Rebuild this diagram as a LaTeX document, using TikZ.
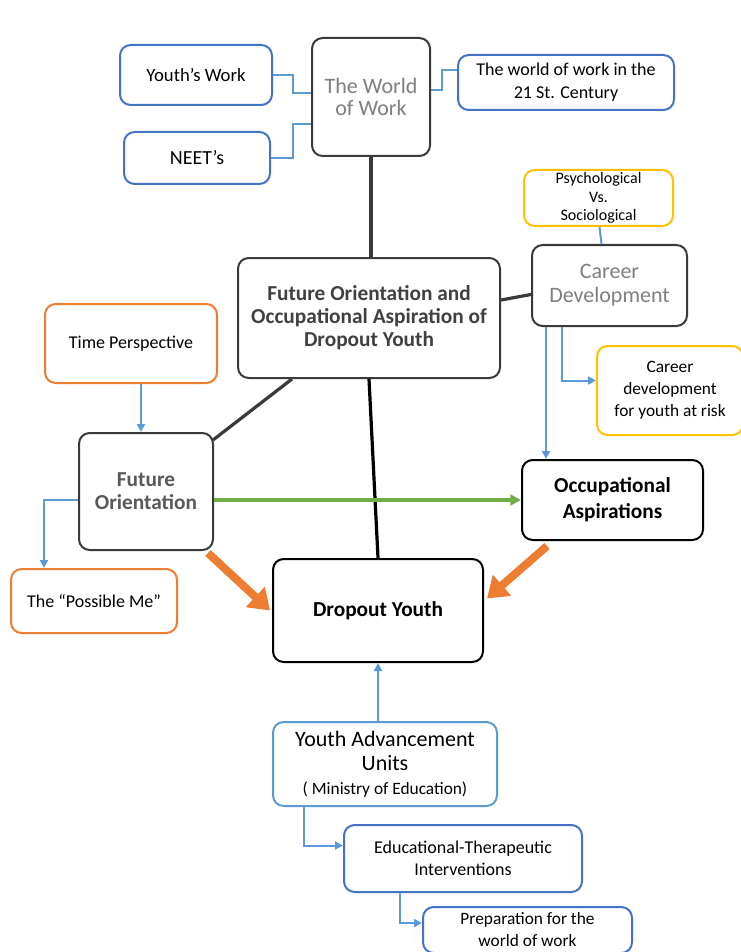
\documentclass[tikz,border=0pt]{standalone}
\usepackage{fontspec}
\setmainfont{Carlito}
\usetikzlibrary{calc,arrows.meta}
\definecolor{cblue}{HTML}{4472C4}
\definecolor{lblue}{HTML}{5B9BD5}
\definecolor{corange}{HTML}{ED7D31}
\definecolor{cyellow}{HTML}{FFC000}
\definecolor{cgreen}{HTML}{70AD47}
\definecolor{dgray}{HTML}{3A3A3A}
\definecolor{tgray}{HTML}{7F7F7F}
\definecolor{tdark}{HTML}{404040}
\definecolor{tmid}{HTML}{595959}
\tikzset{
  bx/.style 2 args={draw, rounded corners=8pt, line width=1.5pt, fill=white, align=center,
    minimum width=#1*0.75pt, minimum height=#2*0.75pt, inner sep=2pt},
  conn/.style={draw=lblue, line width=1.5pt},
  connarr/.style={conn, -{Triangle[length=6pt,width=6pt]}},
  blk/.style={draw=dgray, line width=2.4pt},
  orarr/.style={draw=corange, line width=6pt, -{Triangle[length=15pt,width=20pt]}},
  grarr/.style={draw=cgreen, line width=2.4pt, -{Triangle[length=8pt,width=8pt]}}
}
\begin{document}
\begin{tikzpicture}[x=0.75pt,y=-0.75pt]
\useasboundingbox[fill=white] (0,0) rectangle (740,952);
% nodes
\node[bx={152}{60}, draw=cblue, font=\fontsize{14}{16}\selectfont] (yw) at (196,75) {Youth's Work};
\node[bx={118}{118}, draw=dgray, text=tgray, font=\fontsize{16.5}{17}\selectfont] (wow) at (371,97) {The World\\of Work};
\node[bx={216}{55}, draw=cblue, font=\fontsize{13.5}{17}\selectfont] (w21) at (566,82.5) {The world of work in the\\21 St. Century};
\node[bx={146}{52}, draw=cblue, font=\fontsize{15}{17}\selectfont] (neet) at (197,158) {NEET's};
\node[bx={149}{56}, draw=cyellow, font=\fontsize{12}{14}\selectfont, inner sep=0pt] (psy) at (598.5,198) {Psychological\\Vs.\\Sociological};
\node[bx={155}{81}, draw=dgray, text=tgray, font=\fontsize{16.5}{18}\selectfont] (cd) at (609.5,285.5) {Career\\Development};
\node[bx={262}{120}, draw=dgray, text=tdark, font=\bfseries\fontsize{16}{17.3}\selectfont] (cen) at (369,318) {Future Orientation and\\Occupational Aspiration of\\Dropout Youth};
\node[bx={172}{79}, draw=corange, font=\fontsize{13.5}{16}\selectfont] (tp) at (131,343.5) {Time Perspective};
\node[bx={146}{89}, draw=cyellow, font=\fontsize{13}{16.5}\selectfont] (cdr) at (670,390.5) {Career\\development\\for youth at risk};
\node[bx={134}{117}, draw=dgray, text=tmid, font=\bfseries\fontsize{16}{17.3}\selectfont] (fo) at (146,491.5) {Future\\Orientation};
\node[bx={181}{80}, draw=black, font=\bfseries\fontsize{16}{19.5}\selectfont] (oa) at (612.5,500) {Occupational\\Aspirations};
\node[bx={166}{64}, draw=corange, font=\fontsize{13.5}{16}\selectfont] (pm) at (94,601) {The ``Possible Me''};
\node[bx={210}{103}, draw=black, font=\bfseries\fontsize{16}{18}\selectfont] (dy) at (378,610.5) {Dropout Youth};
\node[bx={224}{84}, draw=lblue, font=\fontsize{16.5}{18.5}\selectfont] (yau) at (385,764) {Youth Advancement\\Units\\[-1pt]{\fontsize{13}{15}\selectfont ( Ministry of Education)}};
\node[bx={238}{67}, draw=cblue, font=\fontsize{13.5}{16.5}\selectfont] (edu) at (463,858.5) {Educational-Therapeutic\\Interventions};
\node[bx={209}{46}, draw=cblue, font=\fontsize{13}{16.5}\selectfont, anchor=north] (prep) at (527.5,906) {Preparation for the\\world of work};
% connectors around World of Work
\draw[conn] (yw.east) -- ++(20,0) |- (wow.west |- 0,93);
\draw[conn] (neet.east) -- ++(22,0) |- (wow.west |- 0,124);
\draw[conn] ($(w21.west)+(0,-12)$) -- ++(-15,0) |- (wow.east |- 0,90);
% black links
\draw[blk] (wow.south) -- (wow.south |- cen.north);
\draw[blk] ($(cen.east)+(0,-18)$) -- ($(cd.west)+(0,9)$);
\draw[blk] ($(cen.south west)+(55,0)$) -- ($(fo.north east)+(-1,8)$);
\draw[blk, draw=black] (cen.south) -- (dy.north);
% career development links
\draw[conn] ($(psy.south)+(1,0)$) -- ($(cd.north)+(-8,0)$);
\draw[connarr] ($(cd.south west)+(31,0)$) |- ($(cdr.west)+(0,-10)$);
\draw[connarr] ($(cd.south west)+(15,0)$) -- ($(oa.north west)+(25,0)$);
% future orientation links
\draw[connarr] ($(tp.south)+(10,0)$) -- ($(fo.north)+(-5,0)$);
\draw[connarr] ($(fo.west)+(0,8)$) -| ($(pm.north west)+(34,0)$);
\draw[grarr] (fo.east |- oa.west) -- (oa.west);
% orange arrows
\draw[orarr] ($(fo.south east)+(-6,2)$) -- ($(dy.west)+(-2,0)$);
\draw[orarr] ($(oa.south west)+(26,5)$) -- ($(dy.east)+(3,-12)$);
% bottom links
\draw[connarr] (yau.north -| dy.south) -- (dy.south);
\draw[connarr] ($(yau.south west)+(32,0)$) |- ($(edu.west)+(0,-13)$);
\draw[connarr] ($(edu.south west)+(57,0)$) |- ($(prep.west)+(0,-7)$);
\end{tikzpicture}
\end{document}
